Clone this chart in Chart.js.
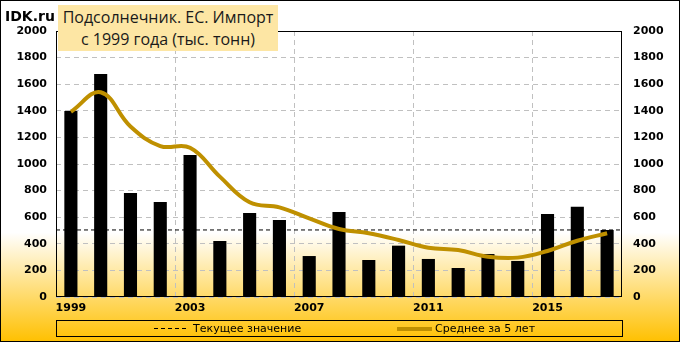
<!DOCTYPE html>
<html>
<head>
<meta charset="utf-8">
<script src="https://cdn.jsdelivr.net/npm/chart.js@4.4.0/dist/chart.umd.min.js"></script>
<style>
  html, body { margin: 0; padding: 0; }
  #wrap {
    position: relative; width: 680px; height: 342px; overflow: hidden;
    background: linear-gradient(to bottom, #ffffff 0%, #ffffff 68%, #ffc000 100%);
  }
  #chart { position: absolute; left: 0; top: 0; }
  #frame {
    position: absolute; left: 0; top: 0; width: 680px; height: 342px;
    box-sizing: border-box; border: 1px solid #000; pointer-events: none;
  }
  #brand { position: absolute; left: 5px; top: 8px; font: bold 14px "DejaVu Sans"; color: #000; }
  #title {
    position: absolute; left: 58px; top: 5px; width: 220px; height: 46px;
    background: #fde6a4; font: 16px "Open Sans"; color: #1a1a1a;
    text-align: center; line-height: 22px; padding-top: 1px; box-sizing: border-box;
    white-space: nowrap;
  }
  #legend {
    position: absolute; left: 56px; top: 320px; width: 567px; height: 17px;
    box-sizing: border-box; border: 1px solid #000;
    font: 11px "DejaVu Sans"; color: #000;
  }
  #legend .sample { position: absolute; top: 7px; }
  #legend .text { position: absolute; top: 1px; white-space: nowrap; }
  .dash { height: 1px; background: repeating-linear-gradient(to right, #000 0 4px, transparent 4px 7px); }
  .gold { height: 4px; margin-top: -1px; background: #bf9000; }
</style>
</head>
<body>
<div id="wrap">
  <canvas id="chart" width="680" height="342"></canvas>
  <div id="brand">IDK.ru</div>
  <div id="title">Подсолнечник. ЕС. Импорт<br>с 1999 года (тыс. тонн)</div>
  <div id="legend">
    <span class="sample dash" style="left:97px;width:33px"></span>
    <span class="text" id="legend-current" style="left:136px"></span>
    <span class="sample gold" style="left:340px;width:35px"></span>
    <span class="text" id="legend-avg" style="left:378px"></span>
  </div>
  <div id="frame"></div>
</div>
<script>
const years = ["1999", "2000", "2001", "2002", "2003", "2004", "2005", "2006", "2007", "2008",
               "2009", "2010", "2011", "2012", "2013", "2014", "2015", "2016", "2017"];
const imports = [1398, 1677, 782, 714, 1068, 421, 632, 579, 308, 639,
                 278, 386, 286, 218, 323, 271, 624, 679, 504];
const avg5 = [1393, 1539, 1282, 1135, 1122, 905, 712, 674, 591, 511,
              479, 429, 371, 353, 303, 296, 346, 423, 479];
const yMin = 0;
const yMax = 2000;
const yStep = 200;

const labelCurrent = "Текущее значение";
const labelAvg = "Среднее за 5 лет";
const currentValue = imports[imports.length - 1];

document.getElementById("legend-current").innerText = labelCurrent;
document.getElementById("legend-avg").innerText = labelAvg;

const tickFont = { family: "DejaVu Sans", size: 11, weight: "bold" };

// black frame round the plot area
const plotFrame = {
    id: "plotFrame",
    afterDraw(chart) {
        const { ctx, chartArea } = chart;
        const l = Math.round(chartArea.left) + 0.5;
        const t = Math.round(chartArea.top) + 0.5;
        const r = Math.round(chartArea.right) - 0.5;
        const b = Math.round(chartArea.bottom) - 0.5;
        ctx.save();
        ctx.strokeStyle = "#000";
        ctx.lineWidth = 1;
        ctx.strokeRect(l, t, r - l, b - t);
        ctx.restore();
    }
};

new Chart(document.getElementById("chart"), {
    type: "bar",
    data: {
        labels: years,
        datasets: [
            {
                type: "line",
                label: labelAvg,
                data: avg5,
                borderColor: "#bf9000",
                borderWidth: 4,
                tension: 0.4,
                pointRadius: 0,
                fill: false,
                order: 1,
            },
            {
                type: "line",
                label: labelCurrent,
                xAxisID: "x2",
                data: [{ x: 0, y: currentValue }, { x: 1, y: currentValue }],
                borderColor: "#000",
                borderWidth: 1,
                borderDash: [4, 3],
                pointRadius: 0,
                fill: false,
                order: 2,
            },
            {
                label: "Импорт",
                data: imports,
                backgroundColor: "#000",
                grouped: false,
                barPercentage: 0.44,
                categoryPercentage: 1,
                order: 3,
            },
        ],
    },
    options: {
        responsive: false,
        devicePixelRatio: 1,
        animation: false,
        layout: { padding: { top: 31, bottom: 25, left: 0, right: 0 } },
        plugins: {
            legend: { display: false },
            tooltip: { enabled: false },
        },
        scales: {
            x: {
                offset: true,
                grid: {
                    offset: true,
                    drawTicks: false,
                    color: (ctx) => (ctx.index % 4 === 0 ? "#c0c0c0" : "transparent"),
                },
                border: { display: false, dash: [5, 4] },
                ticks: {
                    autoSkip: false,
                    maxRotation: 0,
                    padding: 5,
                    color: "#000",
                    font: tickFont,
                    callback: (value, index) => (index % 4 === 0 ? years[index] : ""),
                },
                afterFit: (scale) => { scale.height = 20; },
            },
            x2: {
                type: "linear",
                axis: "x",
                display: false,
                min: 0,
                max: 1,
                offset: false,
            },
            y: {
                position: "left",
                min: yMin,
                max: yMax,
                grid: { color: "#c0c0c0", drawTicks: false },
                border: { display: false, dash: [5, 4] },
                ticks: { stepSize: yStep, padding: 9, color: "#000", font: tickFont, callback: (v) => String(v) },
                afterFit: (scale) => { scale.width = 56; },
            },
            y1: {
                position: "right",
                min: yMin,
                max: yMax,
                grid: { drawOnChartArea: false, drawTicks: false },
                border: { display: false },
                ticks: { stepSize: yStep, padding: 11, color: "#000", font: tickFont, callback: (v) => String(v) },
                afterFit: (scale) => { scale.width = 58; },
            },
        },
    },
    plugins: [plotFrame],
});
</script>
</body>
</html>
